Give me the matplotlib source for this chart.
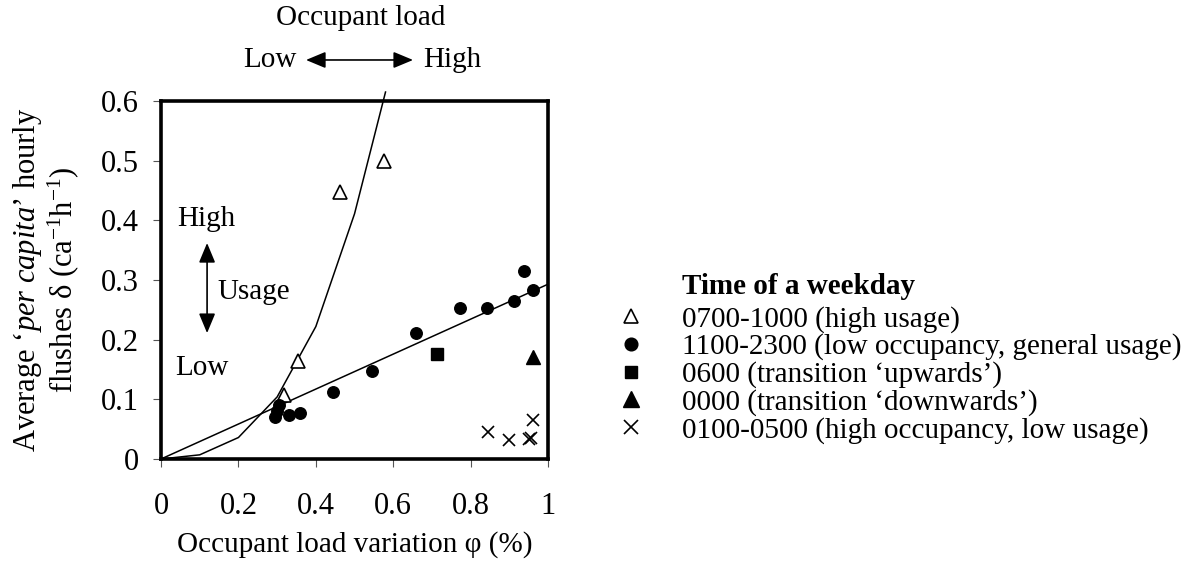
import numpy as np
import matplotlib.pyplot as plt

plt.rcParams['font.family'] = ['Liberation Serif', 'DejaVu Serif']
plt.rcParams['mathtext.fontset'] = 'custom'
plt.rcParams['mathtext.rm'] = 'Liberation Serif'
plt.rcParams['mathtext.it'] = 'Liberation Serif:italic'

# data
high_x = [0.317, 0.353, 0.462, 0.577]
high_y = [0.107, 0.164, 0.448, 0.499]

gen_x = [0.295, 0.300, 0.305, 0.331, 0.360, 0.444, 0.544, 0.658, 0.773, 0.843, 0.912, 0.938, 0.962]
gen_y = [0.070, 0.080, 0.090, 0.074, 0.077, 0.112, 0.147, 0.212, 0.253, 0.253, 0.264, 0.315, 0.283]

up_x = [0.713]
up_y = [0.176]

down_x = [0.960]
down_y = [0.171]

low_x = [0.846, 0.900, 0.950, 0.955, 0.960]
low_y = [0.046, 0.032, 0.033, 0.036, 0.065]

curve_x = [0, 0.1, 0.2, 0.3, 0.4, 0.5, 0.58]
curve_y = [0, 0.007, 0.036, 0.104, 0.222, 0.411, 0.615]

fit_x = [0, 1]
fit_y = [0, 0.293]

labels = ['0700-1000 (high usage)',
          '1100-2300 (low occupancy, general usage)',
          '0600 (transition \u2018upwards\u2019)',
          '0000 (transition \u2018downwards\u2019)',
          '0100-0500 (high occupancy, low usage)']

fig = plt.figure(figsize=(11.99, 5.68), dpi=100)
ax = fig.add_axes([0.1343, 0.1919, 0.3228, 0.6303])

ax.plot(curve_x, curve_y, color='black', lw=1.1, clip_on=False)
ax.plot(fit_x, fit_y, color='black', lw=1.1)

h1, = ax.plot(high_x, high_y, '^', ms=9.5, mfc='white', mec='black', mew=1.2, ls='none', label=labels[0])
h2, = ax.plot(gen_x, gen_y, 'o', ms=8.3, color='black', ls='none', label=labels[1])
h3, = ax.plot(up_x, up_y, 's', ms=8, color='black', ls='none', label=labels[2])
h4, = ax.plot(down_x, down_y, '^', ms=10.5, color='black', ls='none', label=labels[3])
h5, = ax.plot(low_x, low_y, 'x', ms=9, mew=1.2, color='black', ls='none', label=labels[4])

ax.set_xlim(0, 1)
ax.set_ylim(0, 0.6)
ax.set_xticks([0, 0.2, 0.4, 0.6, 0.8, 1])
ax.set_xticklabels(['0', '0.2', '0.4', '0.6', '0.8', '1'])
ax.set_yticks([0, 0.1, 0.2, 0.3, 0.4, 0.5, 0.6])
ax.set_yticklabels(['0', '0.1', '0.2', '0.3', '0.4', '0.5', '0.6'])
ax.tick_params(direction='out', length=6, width=0.8, labelsize=22, color='#555555')
ax.tick_params(axis='x', pad=18)
ax.tick_params(axis='y', pad=10)
for s in ax.spines.values():
    s.set_linewidth(2.6)

ax.set_xlabel('Occupant load variation \u03c6 (%)', fontsize=21, labelpad=7)
ax.set_ylabel('Average \u2018$\\it{per\\ capita}$\u2019 hourly\nflushes \u03b4 (ca$^{-1}$h$^{-1}$)',
              fontsize=22, labelpad=14, linespacing=1.05)

arrow = dict(arrowstyle='<|-|>,head_length=0.6,head_width=0.25',
             color='black', lw=1.2, shrinkA=0, shrinkB=0, mutation_scale=20)

# usage annotation inside the axes
ax.text(0.041, 0.402, 'High', fontsize=21, va='center')
ax.text(0.036, 0.152, 'Low', fontsize=21, va='center')
ax.text(0.147, 0.280, 'Usage', fontsize=21, va='center')
ax.annotate('', xy=(0.119, 0.211), xytext=(0.119, 0.362), arrowprops=arrow)

# occupant load annotation above the axes
fig.text(0.3011, 0.968, 'Occupant load', fontsize=21, ha='center', va='center')
fig.text(0.2477, 0.894, 'Low', fontsize=21, ha='right', va='center')
fig.text(0.3528, 0.894, 'High', fontsize=21, ha='left', va='center')
ax.annotate('', xy=(0.3445, 0.8944), xytext=(0.2552, 0.8944), xycoords='figure fraction',
            textcoords='figure fraction', arrowprops=arrow)

fig.text(0.5688, 1 - 287 / 568, 'Time of a weekday', fontsize=21, fontweight='bold',
         ha='left', va='center')
leg = fig.legend(handles=[h1, h2, h3, h4, h5], loc='upper left',
                 bbox_to_anchor=(0.508, 0.462), frameon=False, fontsize=21,
                 handlelength=1.5, handletextpad=1.0, borderpad=0, borderaxespad=0,
                 labelspacing=0.03, markerscale=1.1)

fig.savefig('out.png', dpi=100)
